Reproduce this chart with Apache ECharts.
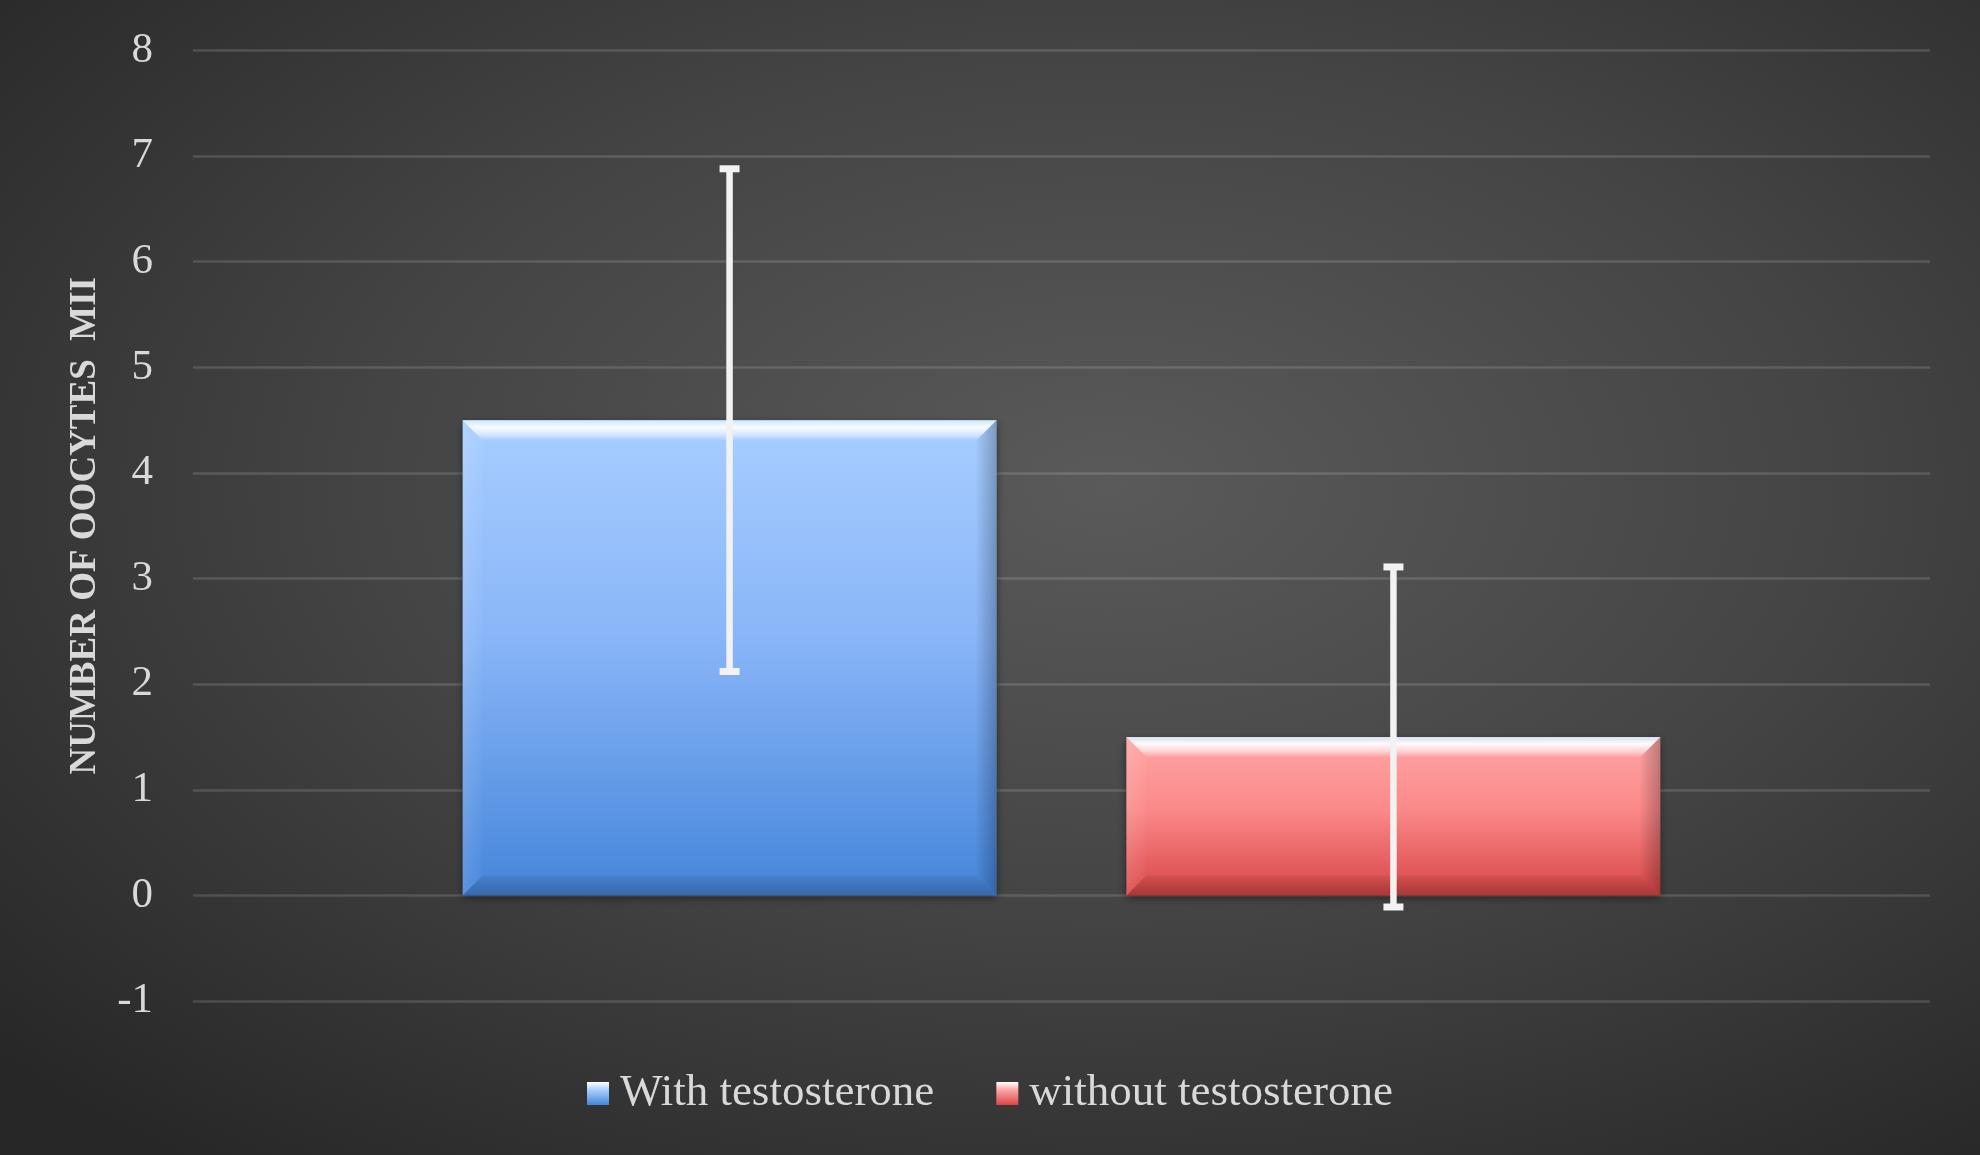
<!DOCTYPE html>
<html>
<head>
<meta charset="utf-8">
<script src="https://cdn.jsdelivr.net/npm/echarts@6/dist/echarts.min.js"></script>
<style>
html,body{margin:0;padding:0;background:#2b2b2b;}
#chart{width:1980px;height:1155px;}
</style>
</head>
<body>
<div id="chart"></div>
<script>
// ---- data ----
const categories = ['MII'];
const seriesNames = ['With testosterone', 'without testosterone'];
const meanValues = [4.5, 1.5];
const sdValues = [2.38, 1.61];
const yTicks = [-1, 0, 1, 2, 3, 4, 5, 6, 7, 8];
const yAxisTitle = 'NUMBER OF OOCYTES  MII';

// ---- styles ----
const FONT = 'Liberation Serif';
const TEXT = '#d9d9d9';
const palettes = [
  {top: '#a8ceff', mid: '#8ab6f8', bottom: '#4585da', edge: '#3a72bf'},
  {top: '#ffa5a5', mid: '#fb8a8a', bottom: '#d94646', edge: '#b83a3a'}
];
const BAR_FRAC = 0.3074;   // bar width / category band
const OFF_FRAC = 0.1911;   // bar centre offset / category band

function barGradient(p) {
  return new echarts.graphic.LinearGradient(0, 0, 0, 1, [
    {offset: 0, color: p.top},
    {offset: 0.45, color: p.mid},
    {offset: 1, color: p.bottom}
  ]);
}

const chart = echarts.init(document.getElementById('chart'), null, {renderer: 'canvas'});

function overlaySeries(idx) {
  const sign = idx === 0 ? -1 : 1;
  return {
    type: 'custom',
    name: seriesNames[idx] + '_overlay',
    z: 5,
    silent: true,
    data: [[0, meanValues[idx], sdValues[idx]]],
    renderItem: function (params, api) {
      const band = api.size([1, 0])[0];
      const c = api.coord([api.value(0), 0]);
      const cx = c[0] + sign * band * OFF_FRAC;
      const w = band * BAR_FRAC;
      const x0 = cx - w / 2, x1 = cx + w / 2;
      const yTop = api.coord([0, api.value(1)])[1];
      const yBase = c[1];
      const b = Math.min(20, (yBase - yTop) / 2);
      const m = api.value(1), s = api.value(2);
      const eTop = api.coord([0, m + s])[1];
      const eBot = api.coord([0, m - s])[1];
      const errColor = '#f2f2f2';
      return {
        type: 'group',
        children: [
          // top bevel
          {type: 'polygon', shape: {points: [[x0, yTop], [x1, yTop], [x1 - b, yTop + b], [x0 + b, yTop + b]]},
            style: {fill: new echarts.graphic.LinearGradient(0, 0, 0, 1, [
              {offset: 0, color: 'rgba(210,235,255,0.85)'},
              {offset: 0.35, color: 'rgba(255,255,255,0.95)'},
              {offset: 0.7, color: 'rgba(255,255,255,0.55)'},
              {offset: 1, color: 'rgba(255,255,255,0.05)'}
            ])}},
          // left bevel
          {type: 'polygon', shape: {points: [[x0, yTop], [x0 + b, yTop + b], [x0 + b, yBase - b], [x0, yBase]]},
            style: {fill: new echarts.graphic.LinearGradient(0, 0, 1, 0, [
              {offset: 0, color: 'rgba(255,255,255,0.12)'},
              {offset: 1, color: 'rgba(255,255,255,0.02)'}
            ])}},
          // right bevel
          {type: 'polygon', shape: {points: [[x1, yTop], [x1 - b, yTop + b], [x1 - b, yBase - b], [x1, yBase]]},
            style: {fill: new echarts.graphic.LinearGradient(1, 0, 0, 0, [
              {offset: 0, color: 'rgba(0,0,0,0.25)'},
              {offset: 1, color: 'rgba(0,0,0,0.02)'}
            ])}},
          // bottom bevel
          {type: 'polygon', shape: {points: [[x0, yBase], [x1, yBase], [x1 - b, yBase - b], [x0 + b, yBase - b]]},
            style: {fill: new echarts.graphic.LinearGradient(0, 1, 0, 0, [
              {offset: 0, color: 'rgba(0,0,0,0.22)'},
              {offset: 1, color: 'rgba(0,0,0,0.06)'}
            ])}},
          // error bar
          {type: 'line', shape: {x1: cx, y1: eTop, x2: cx, y2: eBot}, style: {stroke: errColor, lineWidth: 6.5}},
          {type: 'line', shape: {x1: cx - 10, y1: eTop, x2: cx + 10, y2: eTop}, style: {stroke: errColor, lineWidth: 7}},
          {type: 'line', shape: {x1: cx - 10, y1: eBot, x2: cx + 10, y2: eBot}, style: {stroke: errColor, lineWidth: 7}}
        ]
      };
    }
  };
}

const option = {
  backgroundColor: '#2a2a2a',
  animation: false,
  textStyle: {fontFamily: FONT},
  graphic: [{
    type: 'rect', z: -10, silent: true,
    shape: {x: 0, y: 0, width: 1155, height: 1155},
    scaleX: 1980 / 1155,
    style: {fill: new echarts.graphic.RadialGradient(0.56, 0.42, 0.75, [
      {offset: 0, color: '#5a5a5a'},
      {offset: 0.5, color: '#444444'},
      {offset: 1, color: '#272727'}
    ])}
  }],
  grid: {left: 193, right: 50, top: 50.5, bottom: 154, containLabel: false},
  legend: {
    bottom: 34, left: 'center',
    itemWidth: 22, itemHeight: 23, itemGap: 62,
    textStyle: {color: TEXT, fontFamily: FONT, fontSize: 45, padding: [0, 0, 0, 6]},
    data: seriesNames.map((n, i) => ({name: n, icon: 'rect', itemStyle: {color: new echarts.graphic.LinearGradient(0, 0, 0, 1, [
      {offset: 0, color: '#ffffff'}, {offset: 0.35, color: palettes[i].top}, {offset: 1, color: palettes[i].bottom}
    ])}}))
  },
  xAxis: {
    type: 'category', data: categories,
    axisLine: {show: false}, axisTick: {show: false}, axisLabel: {show: false},
    splitLine: {show: false}
  },
  yAxis: {
    type: 'value', min: yTicks[0], max: yTicks[yTicks.length - 1], interval: 1,
    name: yAxisTitle, nameLocation: 'middle', nameRotate: 90, nameGap: 89,
    nameTextStyle: {color: TEXT, fontFamily: FONT, fontWeight: 'bold', fontSize: 37},
    axisLine: {show: false}, axisTick: {show: false},
    axisLabel: {color: TEXT, fontFamily: FONT, fontSize: 43, margin: 40},
    splitLine: {lineStyle: {color: 'rgba(255,255,255,0.14)', width: 2.5}}
  },
  series: [
    {
      type: 'bar', name: seriesNames[0], data: [meanValues[0]],
      barWidth: '30.74%', barGap: '24.3%',
      itemStyle: {color: barGradient(palettes[0]), shadowColor: 'rgba(0,0,0,0.45)', shadowBlur: 8, shadowOffsetY: 3}
    },
    {
      type: 'bar', name: seriesNames[1], data: [meanValues[1]],
      barWidth: '30.74%', barGap: '24.3%',
      itemStyle: {color: barGradient(palettes[1]), shadowColor: 'rgba(0,0,0,0.45)', shadowBlur: 8, shadowOffsetY: 3}
    },
    overlaySeries(0),
    overlaySeries(1)
  ]
};
chart.setOption(option);
</script>
</body>
</html>
